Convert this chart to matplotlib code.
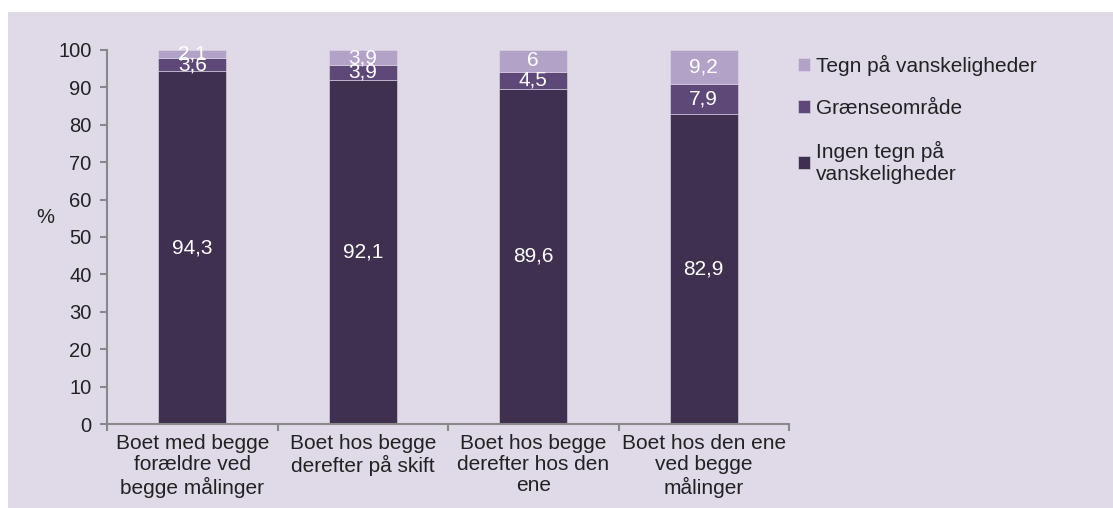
import matplotlib.pyplot as plt
import numpy as np
from matplotlib.patches import Rectangle

plt.rcParams['font.family'] = ['Liberation Sans', 'DejaVu Sans']

categories = ["Boet med begge\nforældre ved\nbegge målinger",
              "Boet hos begge\nderefter på skift",
              "Boet hos begge\nderefter hos den\nene",
              "Boet hos den ene\nved begge\nmålinger"]
ingen = [94.3, 92.1, 89.6, 82.9]
graense = [3.6, 3.9, 4.5, 7.9]
tegn = [2.1, 3.9, 6.0, 9.2]
series_names = ["Ingen tegn på\nvanskeligheder", "Grænseområde", "Tegn på vanskeligheder"]
colors = ["#403050", "#5e4878", "#b2a2c8"]

def fmt(v):
    s = ("%.1f" % v).replace(".", ",")
    return s[:-2] if s.endswith(",0") else s

fig = plt.figure(figsize=(11.13, 5.08), dpi=100)
fig.patches.append(Rectangle((8 / 1113, 0), 1, 1 - 12 / 508, transform=fig.transFigure,
                             facecolor="#e0d9e8", edgecolor="none", zorder=-5))
ax = fig.add_axes([107 / 1113, 1 - 424 / 508, (789 - 107) / 1113, (424 - 50) / 508])
ax.set_facecolor("none")

x = np.arange(len(categories))
bottom = np.zeros(len(categories))
for vals, name, c in zip([ingen, graense, tegn], series_names, colors):
    bars = ax.bar(x, vals, 0.4, bottom=bottom, color=c, label=name,
                  edgecolor="#e0d9e8", linewidth=0.4)
    for xi, b, v in zip(x, bottom, vals):
        ax.text(xi, b + v / 2, fmt(v), ha="center", va="center",
                color="white", fontsize=15)
    bottom = bottom + np.array(vals)

ax.set_xlim(-0.5, len(categories) - 0.5)
ax.set_ylim(0, 100)
ax.set_yticks(np.arange(0, 101, 10))
ax.set_xticks(x)
ax.set_xticklabels(categories, fontsize=15, color="#222222", linespacing=1.15)
ax.set_xticks(np.arange(-0.5, len(categories), 1), minor=True)
ax.tick_params(axis="x", which="major", length=0, pad=7)
ax.tick_params(axis="x", which="minor", length=5, color="#888888", width=1.5)
ax.tick_params(axis="y", length=5, color="#888888", width=1.5, labelsize=14.5,
               labelcolor="#222222", pad=6)
for s in ["top", "right"]:
    ax.spines[s].set_visible(False)
for s in ["left", "bottom"]:
    ax.spines[s].set_color("#888888")
    ax.spines[s].set_linewidth(1.5)
ax.set_ylabel("%", rotation=0, fontsize=14.5, color="#222222", ha="center", va="center")
ax.yaxis.set_label_coords(-0.091, 0.551)

h, l = ax.get_legend_handles_labels()
ax.legend(h[::-1], l[::-1], loc="upper left",
          bbox_to_anchor=(798 / 1113, 1 - 55 / 508), bbox_transform=fig.transFigure,
          frameon=False, fontsize=15, handlelength=0.58, handleheight=0.58,
          handletextpad=0.3, labelspacing=1.1, labelcolor="#222222",
          borderpad=0, borderaxespad=0)

fig.savefig("out.png", dpi=100)
